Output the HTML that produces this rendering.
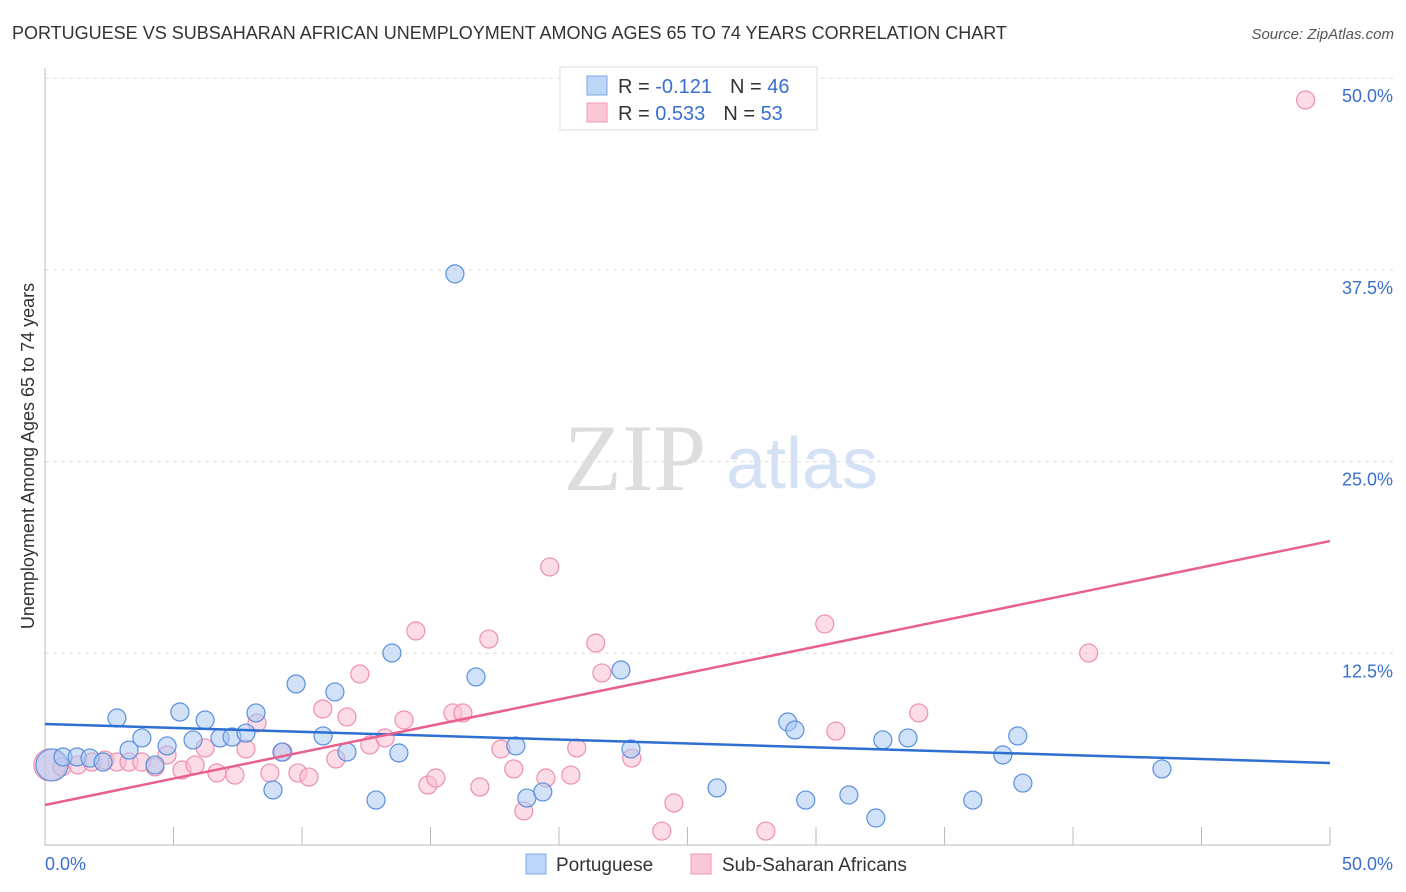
<!DOCTYPE html>
<html><head><meta charset="utf-8"><style>
body{margin:0;background:#fff;font-family:"Liberation Sans",sans-serif;}
svg{display:block}
</style></head><body>
<svg id="chart" width="1406" height="892">
<text x="12" y="39" font-size="18" fill="#333">PORTUGUESE VS SUBSAHARAN AFRICAN UNEMPLOYMENT AMONG AGES 65 TO 74 YEARS CORRELATION CHART</text>
<text x="1394" y="39" font-size="15" fill="#555" font-style="italic" text-anchor="end">Source: ZipAtlas.com</text>
<text x="0" y="0" transform="translate(34,456) rotate(-90)" font-size="18" fill="#333" text-anchor="middle">Unemployment Among Ages 65 to 74 years</text>
<g>
<text x="635" y="490" font-size="95" fill="#ddd" font-family="Liberation Serif,serif" text-anchor="middle">ZIP</text>
<text x="802" y="488" font-size="72" fill="#d5e2f5" text-anchor="middle">atlas</text>
</g>
<g id="grid"></g><g id="axes"></g><g id="marks"></g>
<g>
<rect x="560" y="67" width="257" height="63" fill="#fff" stroke="#ddd"/>
<rect x="587" y="76" width="20" height="19" fill="#bcd6f7" stroke="#7aa8e6"/>
<rect x="587" y="103" width="20" height="19" fill="#fbc8d8" stroke="#f09ab6"/>
<text x="618" y="93" font-size="20" fill="#333">R = <tspan fill="#3a6fd0">-0.121</tspan><tspan dx="18">N = </tspan><tspan fill="#3a6fd0">46</tspan></text>
<text x="618" y="120" font-size="20" fill="#333">R = <tspan fill="#3a6fd0"> 0.533</tspan><tspan dx="18">N = </tspan><tspan fill="#3a6fd0">53</tspan></text>
</g>
<g>
<rect x="526" y="854" width="20" height="20" fill="#bcd6f7" stroke="#7aa8e6"/>
<text x="556" y="871" font-size="19" fill="#333">Portuguese</text>
<rect x="691" y="854" width="20" height="20" fill="#fbc8d8" stroke="#f09ab6"/>
<text x="722" y="871" font-size="19" fill="#333">Sub-Saharan Africans</text>
</g>
</svg>
<script>
const blueX=[0.27,0.7,1.25,1.75,2.26,2.8,3.27,3.77,4.28,4.75,5.25,5.76,6.23,6.81,7.28,7.82,8.21,8.87,9.22,9.77,10.82,11.28,11.75,12.88,13.5,13.77,15.95,16.77,18.32,18.75,19.37,22.41,22.8,26.15,28.9,29.18,29.6,31.28,32.33,32.6,33.58,36.1,37.27,37.85,38.05,43.46];
const blueY=[5.22,5.74,5.74,5.67,5.41,8.28,6.19,6.98,5.22,6.46,8.67,6.85,8.15,6.98,7.04,7.3,8.61,3.59,6.06,10.5,7.11,9.98,6.06,2.93,12.52,6.0,37.24,10.96,6.46,3.06,3.46,11.41,6.26,3.72,8.02,7.5,2.93,3.26,1.76,6.85,6.98,2.93,5.87,7.11,4.04,4.96];
const pinkX=[0.19,0.66,1.28,1.83,2.33,2.8,3.27,3.77,4.28,4.75,5.33,5.84,6.23,6.69,7.39,7.82,8.25,8.75,9.26,9.84,10.27,10.81,11.32,11.75,12.25,12.64,13.23,13.97,14.43,14.9,15.21,15.87,16.26,16.92,17.27,17.74,18.24,18.63,19.49,19.64,20.46,20.69,21.43,21.67,22.83,24.47,24.0,28.05,30.34,30.77,34.0,40.61,49.05];
const pinkY=[5.22,5.09,5.22,5.41,5.54,5.41,5.41,5.41,5.09,5.87,4.89,5.22,6.33,4.7,4.56,6.26,7.96,4.7,6.06,4.7,4.43,8.87,5.61,8.35,11.15,6.52,6.98,8.15,13.96,3.91,4.37,8.61,8.61,3.78,13.43,6.26,4.96,2.22,4.37,18.13,4.56,6.33,13.17,11.22,5.67,2.74,0.91,0.91,14.41,7.43,8.61,12.52,48.58];
const blueTrend=[7.89,5.35];
const pinkTrend=[2.61,19.82];
const yTicks=[12.5,25,37.5,50];
const yTickLabels=["12.5%","25.0%","37.5%","50.0%"];
const xTickLabels=["0.0%","50.0%"];
const NS="http://www.w3.org/2000/svg";
const xs=v=>45+v/50*1285, ys=v=>845-v/12.5*191.7;
function mk(tag,attrs,parent){const e=document.createElementNS(NS,tag);for(const k in attrs)e.setAttribute(k,attrs[k]);document.getElementById(parent).appendChild(e);return e;}
yTicks.forEach((t,i)=>{
 const g=mk('line',{x1:45,x2:1394,y1:ys(t),y2:ys(t),stroke:'#ddd','stroke-dasharray':'4,4'},'grid');
 
 
 const l=mk('text',{x:1393,y:ys(t)+24,'font-size':18,fill:'#3a6fd0','text-anchor':'end'},'axes');l.textContent=yTickLabels[i];
 
 
});
const ax=mk('path',{d:'M45,68V845H1330',stroke:'#bbb',fill:'none'},'axes');


for(let i=0;i<=10;i++){const t=mk('line',{x1:xs(i*5),x2:xs(i*5),y1:827,y2:845,stroke:'#bbb'},'axes');
 
 }
[[45,'start'],[1393,'end']].forEach((p,i)=>{const l=mk('text',{x:p[0],y:870,'font-size':18,fill:'#3a6fd0','text-anchor':p[1]},'axes');l.textContent=xTickLabels[i];
 
 });
function pts(X,Y,fill,stroke,name){X.forEach((x,i)=>{const c=mk('circle',{cx:xs(x),cy:ys(Y[i]),r:i==0?16:9,fill:fill,'fill-opacity':0.55,stroke:stroke,'stroke-width':1.2},'marks');
 
 });}
pts(pinkX,pinkY,'#f9bfd1','#ee8fae','subsaharan-point');
pts(blueX,blueY,'#a9c9f2','#5a90dc','portuguese-point');
const bl=mk('line',{x1:xs(0),y1:ys(blueTrend[0]),x2:xs(50),y2:ys(blueTrend[1]),stroke:'#2e6fd2','stroke-width':2.5},'marks');


const pl=mk('line',{x1:xs(0),y1:ys(pinkTrend[0]),x2:xs(50),y2:ys(pinkTrend[1]),stroke:'#e8608e','stroke-width':2.5},'marks');


</script>
</body></html>
